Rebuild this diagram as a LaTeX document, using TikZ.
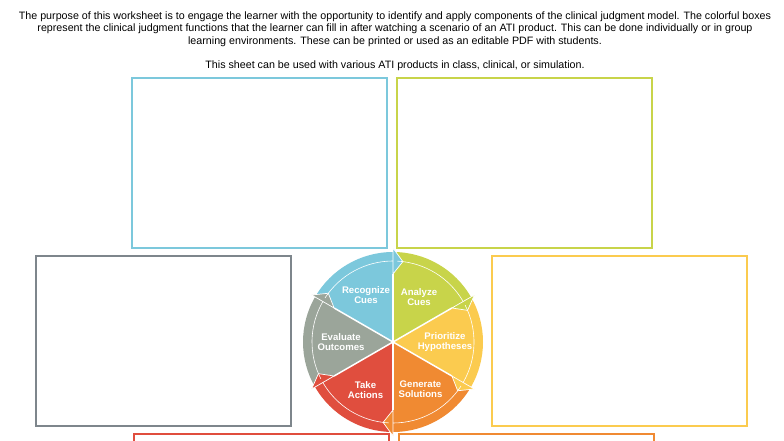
\documentclass[tikz,border=0pt]{standalone}
\usepackage{fontspec}
\setmainfont{Liberation Sans}
\usetikzlibrary{positioning}
\definecolor{cuesblue}{HTML}{7CC8DC}
\definecolor{analyzegreen}{HTML}{C8D44A}
\definecolor{prioyellow}{HTML}{FBCB4F}
\definecolor{genorange}{HTML}{F08A32}
\definecolor{takered}{HTML}{E04E3E}
\definecolor{evalgray}{HTML}{9BA59A}
\definecolor{boxgray}{HTML}{7E868C}

\tikzset{
  box/.style={draw, line width=2.2pt, minimum width=255pt, minimum height=170pt, anchor=north west},
  phase/.style={text=white, font=\fontsize{9.6}{10}\selectfont\bfseries, align=center},
  intro/.style={font=\fontsize{10.7}{12.4}\selectfont, align=center},
}

\begin{document}
\begin{tikzpicture}[x=1pt, y=-1pt]
\useasboundingbox (0,0) rectangle (784,441);
\node[intro] (intro) at (395,29)
  {The purpose of this worksheet is to engage the learner with the opportunity to identify and apply components of the clinical judgment model. The colorful boxes\\
   represent the clinical judgment functions that the learner can fill in after watching a scenario of an ATI product. This can be done individually or in group\\
   learning environments. These can be printed or used as an editable PDF with students.};
\node[intro] (usage) at (395,66) {This sheet can be used with various ATI products in class, clinical, or simulation.};

%% the six boxes
\node[box, draw=cuesblue] (recbox) at (131,77) {};
\node[box, draw=analyzegreen] (anabox) at (396,77) {};
\node[box, draw=boxgray] (evabox) at (35,255) {};
\node[box, draw=prioyellow] (pribox) at (491,255) {};
\node[box, draw=takered] (takbox) at (133,433) {};
\node[box, draw=genorange] (genbox) at (398,433) {};

%% the wheel
\pgfmathsetmacro{\rad}{90}
\begin{scope}[shift={(393,342)}, yscale=-1]
\foreach \a/\col in {150/cuesblue, 90/analyzegreen, 30/prioyellow, -30/genorange, -90/takered, 210/evalgray}
  \fill[\col] (0,0) -- (\a:\rad) arc[start angle=\a, end angle=\a-60, radius=\rad] -- cycle;
\foreach \a/\col in {150/cuesblue, 90/analyzegreen, 30/prioyellow, -30/genorange, -90/takered, 210/evalgray}
  \draw[white, line width=0.7pt, fill=\col] (\a-60:\rad) -- (\a-60:\rad+4) -- (\a-67:\rad-9) -- (\a-60:\rad-22) -- cycle;
\foreach \a in {150, 90, 30, -30, -90, 210}
  \draw[white, line width=0.6pt] (\a-3:\rad-9) arc[start angle=\a-3, end angle=\a-60, radius=\rad-9];
\foreach \a in {90, 30, -30, -90, 150, 210}
  \draw[white, line width=1.5pt] (0,0) -- (\a:\rad-22);
\node[phase] (rec) at (120:54) {Recognize\\Cues};
\node[phase] (ana) at (60:52) {Analyze\\Cues};
\node[phase] (pri) at (0:52) {Prioritize\\Hypotheses};
\node[phase] (gen) at (-60:55) {Generate\\Solutions};
\node[phase] (tak) at (-120:55) {Take\\Actions};
\node[phase] (eva) at (180:52) {Evaluate\\Outcomes};
\end{scope}
\end{tikzpicture}
\end{document}
